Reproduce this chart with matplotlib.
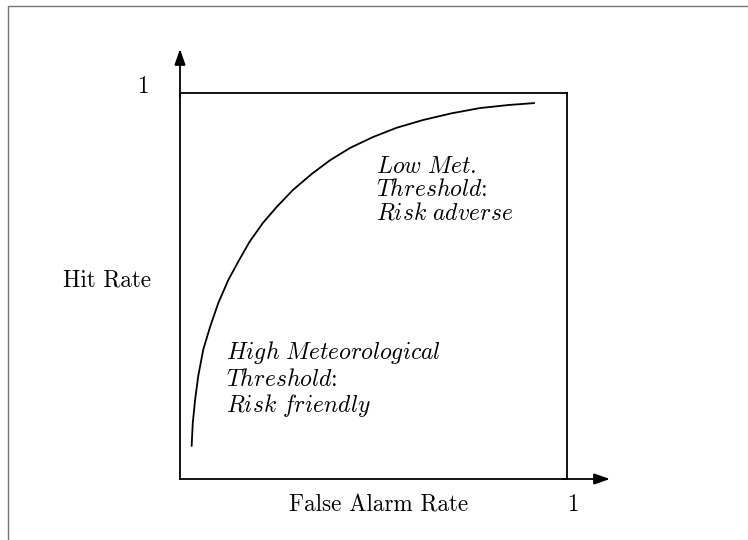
import matplotlib
matplotlib.use("Agg")
import matplotlib.pyplot as plt
from matplotlib.patches import Rectangle

# ROC-style curve (false alarm rate, hit rate)
far = [0.030, 0.033, 0.039, 0.047, 0.060, 0.078, 0.099, 0.125, 0.151,
       0.180, 0.214, 0.250, 0.292, 0.340, 0.388, 0.440, 0.499, 0.560,
       0.628, 0.700, 0.775, 0.850, 0.917]
hit = [0.084, 0.145, 0.205, 0.266, 0.335, 0.395, 0.456, 0.516, 0.564,
       0.615, 0.663, 0.705, 0.749, 0.790, 0.826, 0.858, 0.886, 0.910,
       0.930, 0.947, 0.961, 0.969, 0.974]

x_label = "False Alarm Rate"
y_label = "Hit Rate"
low_lines = ["Low Met.", "Threshold:", "Risk adverse"]
high_lines = ["High Meteorological", "Threshold:", "Risk friendly"]

plt.rcParams["font.family"] = ["cmr10", "DejaVu Serif"]
plt.rcParams["mathtext.fontset"] = "cm"
plt.rcParams["axes.unicode_minus"] = False

W, H = 748, 540
fig = plt.figure(figsize=(W / 100, H / 100), dpi=100)

# outer frame (only left and top edges fall inside the picture)
fig.patches.append(Rectangle((8.3 / W, -0.1), 2.0, (H - 6.0) / H + 0.1,
                             transform=fig.transFigure, fill=False,
                             edgecolor="0.45", linewidth=1.0))

# axes box: x 180..567 px, y 93..479 px
ax = fig.add_axes([180 / W, (H - 479) / H, 387 / W, 386 / H])
ax.set_xlim(0, 1)
ax.set_ylim(0, 1)
ax.set_xticks([])
ax.set_yticks([])
for sp in ax.spines.values():
    sp.set_linewidth(1.3)
    sp.set_color("black")
ax.patch.set_alpha(0)

ax.plot(far, hit, color="black", linewidth=1.3,
        solid_joinstyle="round", solid_capstyle="butt")

# axis arrows sticking out past the box
arrow = dict(arrowstyle="-|>,head_length=0.95,head_width=0.33",
             color="black", linewidth=1.3, shrinkA=0, shrinkB=0,
             mutation_scale=10)
ax.annotate("", xy=(0, 1.114), xytext=(0, 0.99), xycoords="axes fraction",
            arrowprops=arrow, annotation_clip=False)
ax.annotate("", xy=(1.111, 0), xytext=(0.99, 0), xycoords="axes fraction",
            arrowprops=arrow, annotation_clip=False)

fs = 16.7
ax.text(-0.097, 1.001, "1", fontsize=fs, ha="center", va="baseline",
        transform=ax.transAxes)
ax.text(1.015, -0.083, "1", fontsize=fs, ha="center", va="baseline",
        transform=ax.transAxes)
ax.text(0.282, -0.083, x_label, fontsize=fs, ha="left", va="baseline",
        transform=ax.transAxes)
ax.text(-0.303, 0.498, y_label, fontsize=fs, ha="left", va="baseline",
        transform=ax.transAxes)


def it(s):
    # italic words via mathtext, trailing punctuation left as plain text
    tail = ""
    if s[-1] in ":.":
        tail = s[-1]
        s = s[:-1]
    return "$\\mathit{" + s.replace(" ", "\\ ") + "}$" + tail


fs_it = 17
for line, yb in zip(low_lines, [0.794, 0.734, 0.673]):
    ax.text(0.506, yb, it(line), fontsize=fs_it, ha="left", va="baseline",
            transform=ax.transAxes)
for line, yb in zip(high_lines, [0.311, 0.242, 0.173]):
    ax.text(0.119, yb, it(line), fontsize=fs_it, ha="left", va="baseline",
            transform=ax.transAxes)

fig.savefig("out.png", dpi=100)
